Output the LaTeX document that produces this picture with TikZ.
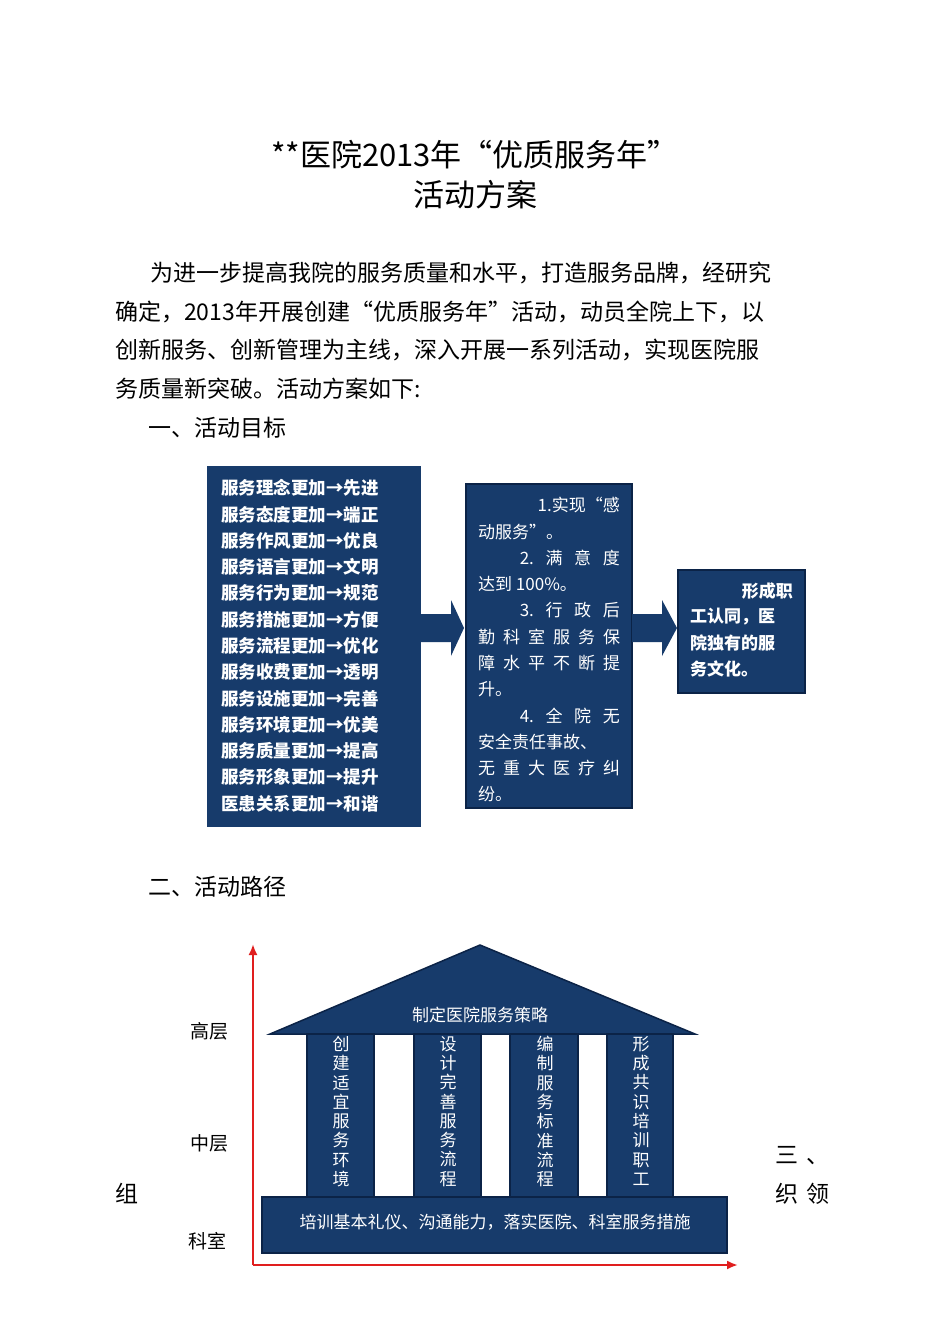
\documentclass[tikz,border=0pt]{standalone}
\usepackage{fontspec}
\setmainfont{Noto Sans CJK SC}
\usetikzlibrary{arrows.meta}
\definecolor{navy}{HTML}{173B6B}
\definecolor{navyline}{HTML}{0B2347}
\definecolor{axisred}{HTML}{E01E1E}
\tikzset{
	navybox/.style={fill=navy, draw=navyline, line width=1.5pt},
	wtext/.style={text=white, inner sep=0pt, font=\fontsize{17}{17}\selectfont},
	btext/.style={inner sep=0pt, anchor=base west, font=\fontsize{23}{23}\selectfont},
	coltext/.style={text=white, inner sep=0pt, align=center, font=\fontsize{17}{19.3}\selectfont},
}
\begin{document}
\begin{tikzpicture}[x=1pt,y=-1pt]
		\useasboundingbox[fill=white] (0,0) rectangle (950,1344);

		%% title
		\node[inner sep=0pt, font=\fontsize{31}{31}\selectfont] at (475,155)(title1){**医院2013年“优质服务年”};
		\node[inner sep=0pt, font=\fontsize{31}{31}\selectfont] at (475,195)(title2){活动方案};

		%% paragraph
		\node[btext] at (150,281)(p1){为进一步提高我院的服务质量和水平，打造服务品牌，经研究};
		\node[btext] at (115,320)(p2){确定，2013年开展创建“优质服务年”活动，动员全院上下，以};
		\node[btext] at (115,358)(p3){创新服务、创新管理为主线，深入开展一系列活动，实现医院服};
		\node[btext] at (115,397)(p4){务质量新突破。活动方案如下:};
		\node[btext] at (148,436)(h1){一、活动目标};

		%% goals
		\fill[navy] (207,466) rectangle (421,827);
		\node[inner sep=0pt] at (314,646)(goals){};
		\foreach \t [count=\i] in {服务理念更加→先进,服务态度更加→端正,服务作风更加→优良,
			服务语言更加→文明,服务行为更加→规范,服务措施更加→方便,服务流程更加→优化,
			服务收费更加→透明,服务设施更加→完善,服务环境更加→优美,服务质量更加→提高,
			服务形象更加→提升,医患关系更加→和谐}
			\node[wtext, anchor=west, font=\fontsize{17.5}{17.5}\selectfont\bfseries] at (221,{488+26.3*(\i-1)}){\t};

		\fill[navy] (421,614)--(451,614)--(451,600)--(464,628)--(451,656)--(451,642)--(421,642)--cycle;

		%% targets
		\draw[navybox] (466,484) rectangle (632,808);
		\node[wtext, anchor=east] at (620,505)(t1){1.\hfill 实现“感};
		\node[wtext, anchor=west] at (478,532)(t2){动服务”。};
		\node[wtext, anchor=east] at (620,558)(t3){\makebox[100pt][s]{2.\hfil 满\hfil 意\hfil 度}};
		\node[wtext, anchor=west] at (478,584)(t4){达到 100\%。};
		\node[wtext, anchor=east] at (620,610)(t5){\makebox[100pt][s]{3.\hfil 行\hfil 政\hfil 后}};
		\node[wtext, anchor=west] at (478,637)(t6){\makebox[142pt][s]{勤\hfil 科\hfil 室\hfil 服\hfil 务\hfil 保}};
		\node[wtext, anchor=west] at (478,663)(t7){\makebox[142pt][s]{障\hfil 水\hfil 平\hfil 不\hfil 断\hfil 提}};
		\node[wtext, anchor=west] at (478,689)(t8){升。};
		\node[wtext, anchor=east] at (620,716)(t9){\makebox[100pt][s]{4.\hfil 全\hfil 院\hfil 无}};
		\node[wtext, anchor=west] at (478,742)(t10){安全责任事故、};
		\node[wtext, anchor=west] at (478,768)(t11){\makebox[142pt][s]{无\hfil 重\hfil 大\hfil 医\hfil 疗\hfil 纠}};
		\node[wtext, anchor=west] at (478,794)(t12){纷。};

		\fill[navy] (632,614)--(662,614)--(662,600)--(677,628)--(662,656)--(662,642)--(632,642)--cycle;

		%% culture
		\draw[navybox] (678,570) rectangle (805,693);
		\node[wtext, anchor=east, font=\fontsize{17}{17}\selectfont\bfseries] at (793,591)(c1){形成职};
		\node[wtext, anchor=west, font=\fontsize{17}{17}\selectfont\bfseries] at (690,617)(c2){工认同，医};
		\node[wtext, anchor=west, font=\fontsize{17}{17}\selectfont\bfseries] at (690,643)(c3){院独有的服};
		\node[wtext, anchor=west, font=\fontsize{17}{17}\selectfont\bfseries] at (690,669)(c4){务文化。};

		\node[btext] at (148,895)(h2){二、活动路径};

		%% temple
		\draw[navybox, line join=miter] (270,1034)--(480,945)--(695,1034)--cycle;
		\node[wtext] at (480,1015)(roof){制定医院服务策略};

		\draw[navybox] (307,1034) rectangle (374,1197);
		\draw[navybox] (414,1034) rectangle (481,1197);
		\draw[navybox] (510,1034) rectangle (578,1197);
		\draw[navybox] (607,1034) rectangle (673,1197);
		\node[coltext, anchor=north] at (341,1036)(col1){创\\建\\适\\宜\\服\\务\\环\\境};
		\node[coltext, anchor=north] at (448,1036)(col2){设\\计\\完\\善\\服\\务\\流\\程};
		\node[coltext, anchor=north] at (545,1036)(col3){编\\制\\服\\务\\标\\准\\流\\程};
		\node[coltext, anchor=north] at (641,1036)(col4){形\\成\\共\\识\\培\\训\\职\\工};

		\draw[navybox] (262,1197) rectangle (727,1253);
		\node[wtext] at (495,1222)(base){培训基本礼仪、沟通能力，落实医院、科室服务措施};

		%% axes
		\coordinate (o) at (253,1265);
		\coordinate (top) at (253,944);
		\coordinate (right) at (738,1265);
		\draw[axisred, line width=2.2pt, -{Latex[length=11pt,width=9pt]}] (o)--(top);
		\draw[axisred, line width=2.2pt, -{Latex[length=11pt,width=9pt]}] (o)--(right);

		\node[btext, font=\fontsize{19}{19}\selectfont] at (190,1038)(high){高层};
		\node[btext, font=\fontsize{19}{19}\selectfont] at (190,1150)(mid){中层};
		\node[btext, font=\fontsize{19}{19}\selectfont] at (188,1248)(dept){科室};

		%% wrapped text
		\node[btext] at (775,1163)(s1){三\hspace{8pt}、};
		\node[btext] at (115,1202)(s2){组};
		\node[btext] at (775,1202)(s3){织\hspace{8pt}领};
\end{tikzpicture}
\end{document}
